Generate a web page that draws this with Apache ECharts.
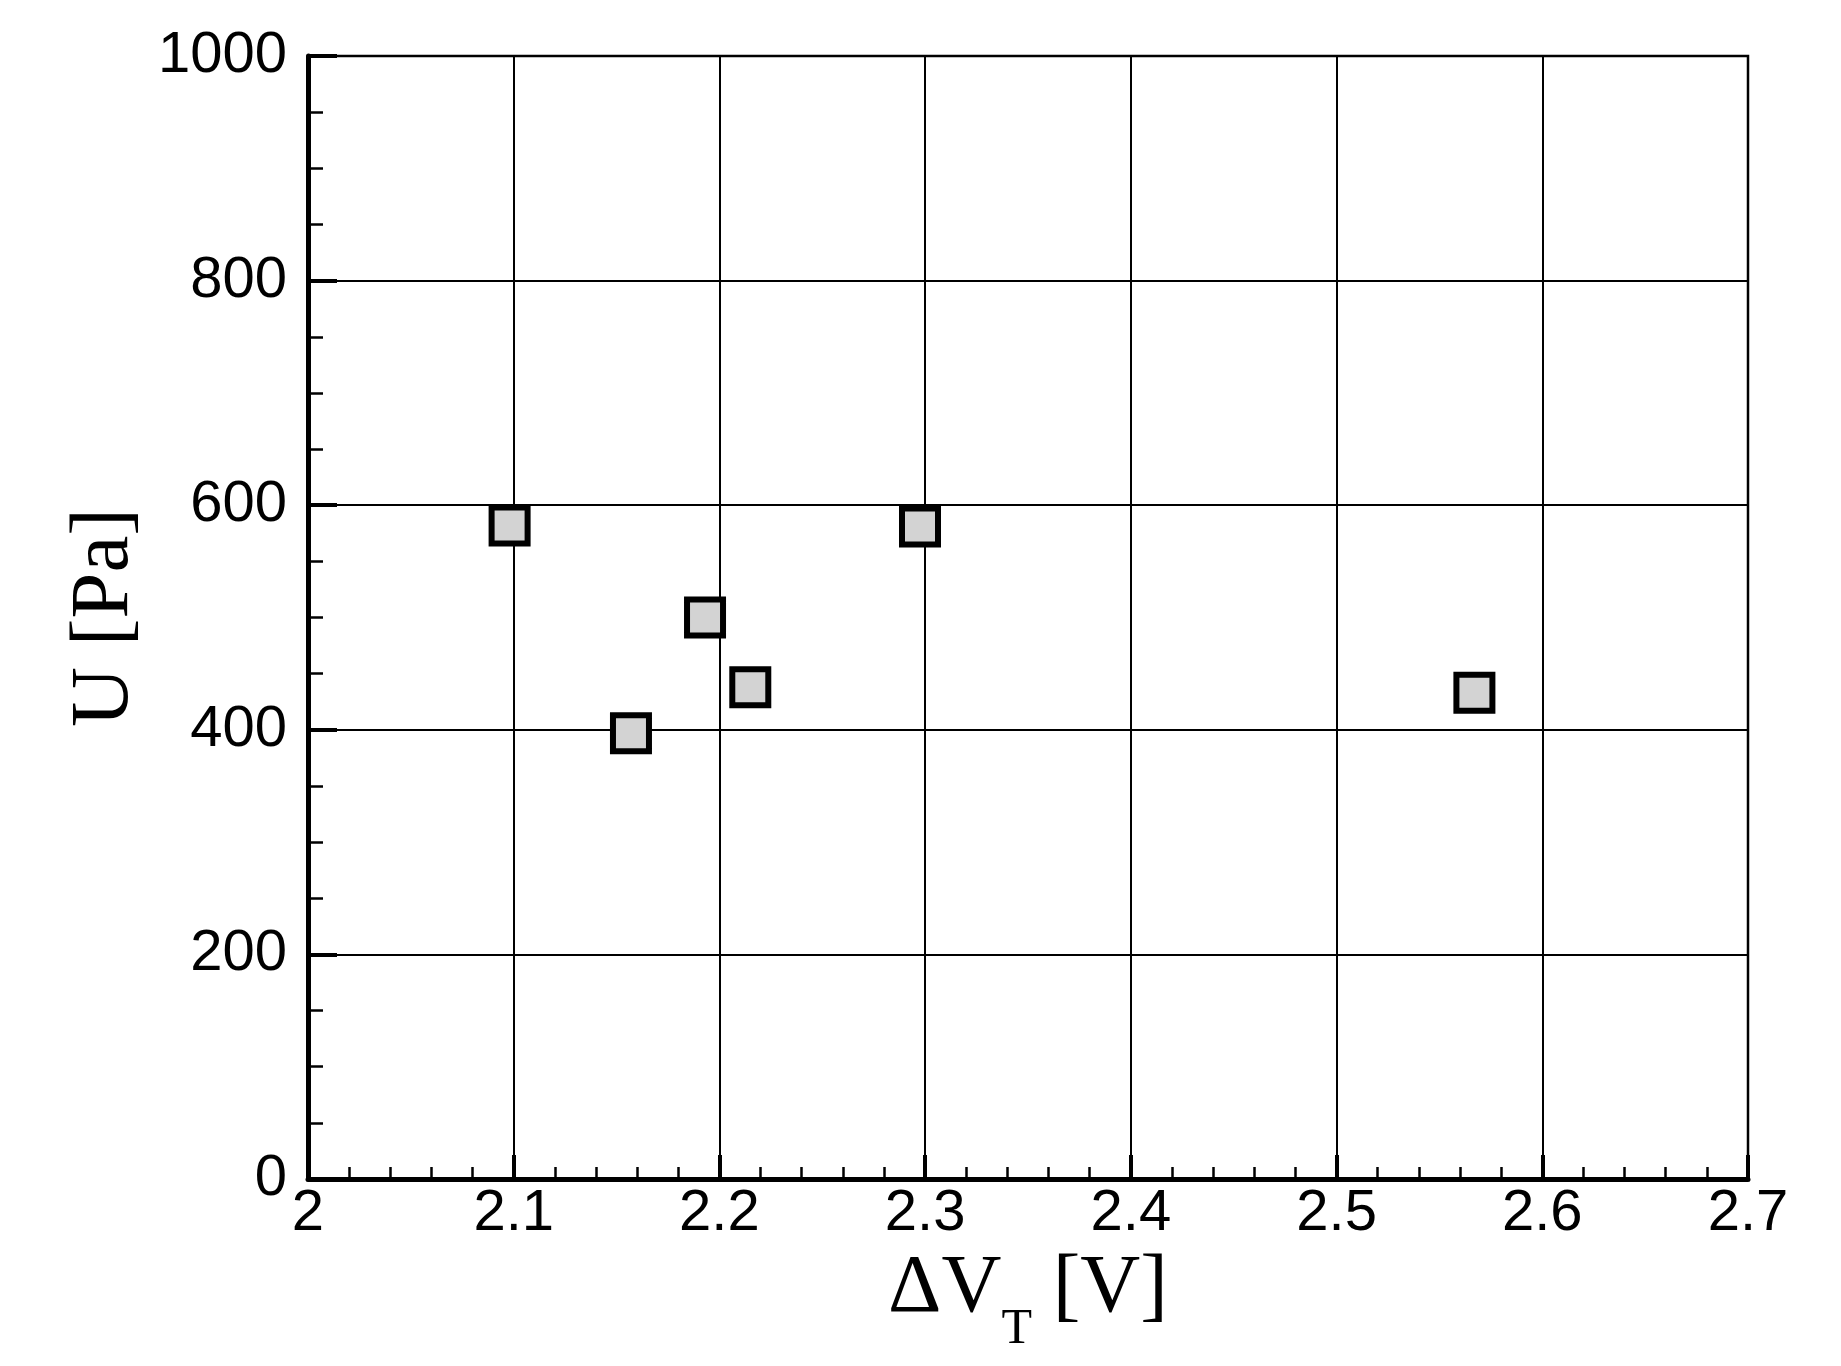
<!DOCTYPE html>
<html>
<head>
<meta charset="utf-8">
<script src="https://cdn.jsdelivr.net/npm/echarts@6/dist/echarts.min.js"></script>
<style>
html,body{margin:0;padding:0;background:#fff;}
#chart{width:1841px;height:1366px;}
</style>
</head>
<body>
<div id="chart"></div>
<script>
// Data
const deltaVT = [2.098, 2.157, 2.193, 2.215, 2.2975, 2.567];
const uPa = [582, 397, 500, 438, 581, 433];
const xTicks = [2, 2.1, 2.2, 2.3, 2.4, 2.5, 2.6, 2.7];
const yTicks = [0, 200, 400, 600, 800, 1000];

const points = deltaVT.map((x, i) => [x, uPa[i]]);

const chart = echarts.init(document.getElementById('chart'), null, {renderer: 'canvas'});
const sans = 'Liberation Sans';
const serif = 'Liberation Serif';

chart.setOption({
  animation: false,
  backgroundColor: '#ffffff',
  grid: {
    left: 308, right: 93, top: 56, bottom: 187,
    show: true, borderColor: '#000', borderWidth: 2.5, backgroundColor: 'transparent'
  },
  xAxis: {
    type: 'value',
    min: xTicks[0], max: xTicks[xTicks.length - 1], interval: 0.1,
    name: '{m|ΔV}{s|T}{m| [V]}',
    nameLocation: 'middle',
    nameGap: 60,
    nameTextStyle: {
      rich: {
        m: {fontFamily: serif, fontSize: 83, color: '#000', verticalAlign: 'top', lineHeight: 83},
        s: {fontFamily: serif, fontSize: 50, color: '#000', verticalAlign: 'top', lineHeight: 50, padding: [57, 0, 0, 0]}
      }
    },
    axisLine: {show: true, onZero: false, lineStyle: {color: '#000', width: 5}},
    axisTick: {show: true, inside: true, length: 24, lineStyle: {color: '#000', width: 4}},
    minorTick: {show: true, splitNumber: 5, length: 12, lineStyle: {color: '#000', width: 2.5}},
    axisLabel: {
      margin: 6, color: '#000', fontFamily: sans, fontSize: 58,
      formatter: v => String(Math.round(v * 10) / 10),
      showMinLabel: true, showMaxLabel: true
    },
    splitLine: {show: true, lineStyle: {color: '#000', width: 2}}
  },
  yAxis: {
    type: 'value',
    min: yTicks[0], max: yTicks[yTicks.length - 1], interval: 200,
    name: 'U [Pa]',
    nameLocation: 'middle',
    nameGap: 131,
    nameTextStyle: {fontFamily: serif, fontSize: 83, color: '#000', lineHeight: 83},
    axisLine: {show: true, onZero: false, lineStyle: {color: '#000', width: 5}},
    axisTick: {show: true, inside: true, length: 29, lineStyle: {color: '#000', width: 4}},
    minorTick: {show: true, splitNumber: 4, length: 15, lineStyle: {color: '#000', width: 2.5}},
    axisLabel: {
      margin: 21, color: '#000', fontFamily: sans, fontSize: 58,
      formatter: v => String(Math.round(v))
    },
    splitLine: {show: true, lineStyle: {color: '#000', width: 2}}
  },
  series: [{
    type: 'scatter',
    data: points,
    symbol: 'rect',
    symbolSize: 36,
    itemStyle: {color: '#d3d3d3', borderColor: '#000', borderWidth: 6, opacity: 1},
    z: 5
  }]
});
</script>
</body>
</html>
